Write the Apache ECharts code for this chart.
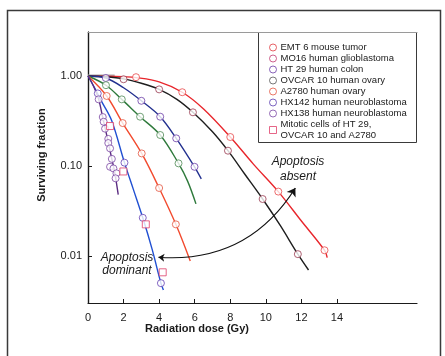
<!DOCTYPE html>
<html>
<head>
<meta charset="utf-8">
<script src="https://cdn.jsdelivr.net/npm/echarts@6/dist/echarts.min.js"></script>
<style>
    html, body {margin: 0; padding: 0; background: #fff;}
    #main {width: 445px; height: 356px;}
</style>
</head>
<body>
<div id="main"></div>
<script>
    // tick labels
    var xTicks = [0, 2, 4, 6, 8, 10, 12, 14]
    var yTicks = [0.01, 0.1, 1]

    // legend names
    var names = [
        'EMT 6 mouse tumor',
        'MO16 human glioblastoma',
        'HT 29 human colon',
        'OVCAR 10 human ovary',
        'A2780 human ovary',
        'HX142 human neuroblastoma',
        'HX138 human neuroblastoma',
        'Mitotic cells of HT 29,\nOVCAR 10 and A2780'
    ]

    // fitted curves [dose, fraction]
    var emt6Curve = [[0, 1], [1, 0.995], [2, 0.98], [2.7, 0.96], [4, 0.86], [5.3, 0.66], [6.5, 0.43], [8, 0.21], [9.3, 0.105], [10.7, 0.052], [12, 0.0245], [13.3, 0.0116], [13.45, 0.0096]]
    var mo16Curve = [[0, 1], [1, 0.98], [2, 0.93], [3, 0.83], [4, 0.71], [5, 0.55], [5.9, 0.395], [7, 0.24], [7.87, 0.148], [8.8, 0.082], [9.82, 0.043], [10.8, 0.022], [11.8, 0.0105], [12.4, 0.007]]
    var ht29Curve = [[0, 1], [1, 0.95], [2, 0.74], [3, 0.53], [4.06, 0.353], [4.96, 0.203], [5.99, 0.098], [6.37, 0.072]]
    var ovcarCurve = [[0, 1], [1.01, 0.79], [1.9, 0.55], [2.93, 0.353], [4.06, 0.221], [5.09, 0.107], [5.6, 0.068], [6.07, 0.038]]
    var a2780Curve = [[0, 1], [1.05, 0.6], [1.95, 0.3], [3.02, 0.138], [4, 0.057], [4.94, 0.0225], [5.75, 0.0088]]
    var hx142Curve = [[0, 1], [0.4, 0.72], [0.77, 0.52], [1.33, 0.32], [2.05, 0.109], [2.55, 0.055], [3.08, 0.0266], [3.6, 0.012], [4.1, 0.005], [4.24, 0.0042]]
    var hx138Curve = [[0, 1], [0.3, 0.78], [0.6, 0.55], [0.85, 0.33], [1.1, 0.2], [1.3, 0.13], [1.5, 0.085], [1.7, 0.048]]

    // measured points
    var emt6Pts = [[2.7, 0.97], [5.3, 0.66], [8, 0.21], [10.7, 0.052], [13.3, 0.0116]]
    var mo16Pts = [[2, 0.92], [4, 0.71], [5.9, 0.395], [7.87, 0.148], [9.82, 0.043], [11.8, 0.0105]]
    var ht29Pts = [[1, 0.95], [3, 0.53], [4.06, 0.353], [4.96, 0.203], [5.99, 0.098]]
    var ovcarPts = [[1.01, 0.79], [1.9, 0.55], [2.93, 0.353], [4.06, 0.221], [5.09, 0.107]]
    var a2780Pts = [[1.05, 0.6], [1.95, 0.3], [3.02, 0.138], [4, 0.057], [4.94, 0.0225]]
    var hx142Pts = [[0.55, 0.64], [2.05, 0.109], [3.08, 0.0266], [4.1, 0.005]]
    var hx138Pts = [[0.6, 0.55], [0.83, 0.35], [0.88, 0.31], [0.96, 0.26], [1.14, 0.2], [1.14, 0.18], [1.24, 0.157], [1.34, 0.12], [1.24, 0.098], [1.43, 0.094], [1.6, 0.083], [1.55, 0.073]]
    var mitoticPts = [[1.24, 0.278], [1.99, 0.087], [3.25, 0.0225], [4.2, 0.0066]]

    // "apoptosis" arrow ends and the grey stub at 1.00
    var arrowEnds = [[3.96, 0.0097], [11.66, 0.057]]
    var stub = [[0, 1], [1.5, 1]]

    var lineColors = ['#e8262c', '#1e1e1e', '#22308f', '#2f7a3c', '#f24a2e', '#2150d2', '#5b2c82']
    var markColors = ['#e8484a', '#9a3a50', '#6a3ca6', '#4f8a55', '#e4543e', '#6440b4', '#7a46a4', '#e0406a']
    var legendColors = ['#e03a40', '#c03a70', '#6a3ca6', '#555555', '#e4543e', '#5a3cb0', '#7a46a4', '#e0406a']

    var curves = [emt6Curve, mo16Curve, ht29Curve, ovcarCurve, a2780Curve, hx142Curve, hx138Curve]
    var points = [emt6Pts, mo16Pts, ht29Pts, ovcarPts, a2780Pts, hx142Pts, hx138Pts, mitoticPts]

    var yMin = 0.00301, yMax = 3.08
    var xMin = 0, xMax = 18.5

    var series = []

    series.push({
        type: 'line',
        data: stub,
        symbol: 'none',
        silent: true,
        lineStyle: {color: '#a8a8a8', width: 3},
        z: 1
    })

    curves.forEach(function (c, i) {
        series.push({
            type: 'line',
            data: c,
            smooth: 0.35,
            symbol: 'none',
            silent: true,
            lineStyle: {color: lineColors[i], width: 1.4},
            z: 2
        })
    })

    points.forEach(function (p, i) {
        series.push({
            name: names[i],
            type: 'scatter',
            data: p,
            symbol: i === 7 ? 'rect' : 'circle',
            symbolSize: 7,
            itemStyle: {color: '#fff', borderColor: markColors[i], borderWidth: 1},
            z: 3
        })
    })

    series.push({
        type: 'lines',
        coordinateSystem: 'cartesian2d',
        data: [{coords: arrowEnds}],
        symbol: ['arrow', 'arrow'],
        symbolSize: [6, 8],
        silent: true,
        lineStyle: {color: '#111', width: 1.2, opacity: 1, curveness: -0.3},
        z: 4
    })

    var legendData = names.map(function (n, i) {
        return {
            name: n,
            icon: i === 7 ? 'rect' : 'circle',
            itemStyle: {color: '#fff', borderColor: legendColors[i], borderWidth: 1}
        }
    })

    var font = 'Liberation Sans, Arial, sans-serif'

    var option = {
        animation: false,
        backgroundColor: '#fff',
        grid: {left: 88, right: 28, top: 32, bottom: 53},
        legend: {
            orient: 'vertical',
            left: 264,
            top: 37,
            itemWidth: 7,
            itemHeight: 7,
            itemGap: 0,
            selectedMode: false,
            data: legendData,
            textStyle: {fontFamily: font, fontSize: 9.5, lineHeight: 11, color: '#1a1a1a', padding: [0, 0, 0, -1]}
        },
        xAxis: [{
            type: 'value',
            min: xMin,
            max: xMax,
            interval: 2,
            splitLine: {show: false},
            axisLine: {lineStyle: {color: '#1a1a1a', width: 1.2}},
            axisTick: {inside: true, length: 4, customValues: xTicks, lineStyle: {color: '#1a1a1a'}},
            axisLabel: {customValues: xTicks, margin: 9, fontFamily: font, fontSize: 11, color: '#1a1a1a'}
        }, {
            type: 'value',
            position: 'top',
            min: xMin,
            max: xMax,
            splitLine: {show: false},
            axisLine: {onZero: false, lineStyle: {color: '#9a9a9a', width: 1.2}},
            axisTick: {show: false},
            axisLabel: {show: false}
        }],
        yAxis: [{
            type: 'log',
            logBase: 10,
            min: yMin,
            max: yMax,
            splitLine: {show: false},
            axisLine: {show: true, lineStyle: {color: '#1a1a1a', width: 1.2}},
            axisTick: {inside: true, length: 4, customValues: yTicks, lineStyle: {color: '#1a1a1a'}},
            axisLabel: {
                customValues: yTicks,
                margin: 6,
                fontFamily: font,
                fontSize: 11,
                color: '#1a1a1a',
                formatter: function (v) {
                    return Number(v).toFixed(2)
                }
            }
        }, {
            type: 'log',
            logBase: 10,
            position: 'right',
            min: yMin,
            max: yMax,
            splitLine: {show: false},
            axisLine: {show: true, lineStyle: {color: '#1a1a1a', width: 1.2}},
            axisTick: {show: false},
            axisLabel: {show: false}
        }],
        graphic: [
            // outer frame
            {type: 'rect', shape: {x: 7.5, y: 10.5, width: 433, height: 360}, style: {fill: 'none', stroke: '#3a3a3a', lineWidth: 1.5}, silent: true},
            // legend box
            {type: 'rect', shape: {x: 258.5, y: 32.5, width: 158, height: 110}, style: {fill: '#fff', stroke: '#3a3a3a', lineWidth: 1}, z: -1, silent: true},
            {
                type: 'text', x: 42, y: 155, rotation: Math.PI / 2,
                style: {text: 'Surviving fraction', fontFamily: font, fontSize: 11, fontWeight: 'bold', fill: '#1a1a1a', align: 'center', verticalAlign: 'middle'}
            },
            {
                type: 'text', x: 197, y: 329,
                style: {text: 'Radiation dose (Gy)', fontFamily: font, fontSize: 11, fontWeight: 'bold', fill: '#1a1a1a', align: 'center', verticalAlign: 'middle'}
            },
            {
                type: 'text', x: 298, y: 169,
                style: {text: 'Apoptosis\nabsent', fontFamily: font, fontSize: 12, fontStyle: 'italic', lineHeight: 15, fill: '#1a1a1a', align: 'center', verticalAlign: 'middle'}
            },
            {
                type: 'text', x: 127, y: 264,
                style: {text: 'Apoptosis\ndominant', fontFamily: font, fontSize: 12, fontStyle: 'italic', lineHeight: 13, fill: '#1a1a1a', align: 'center', verticalAlign: 'middle'}
            }
        ],
        series: series
    }

    var myChart = echarts.init(document.getElementById('main'))
    myChart.setOption(option)
</script>
</body>
</html>
